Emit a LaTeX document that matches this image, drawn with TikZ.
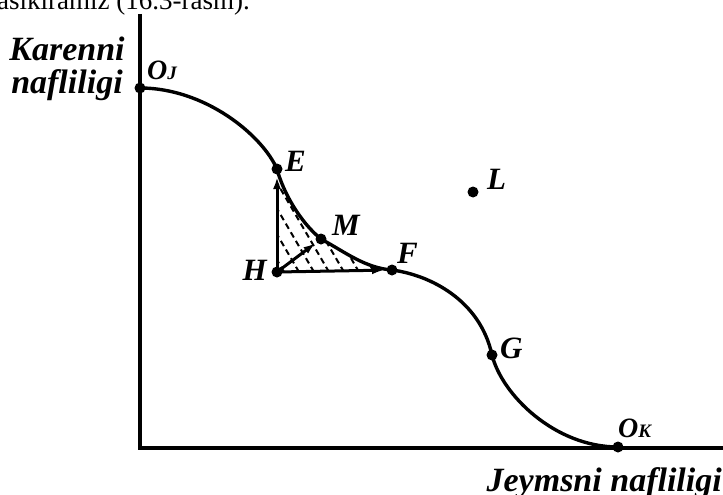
\documentclass[tikz,border=0pt]{standalone}
\usepackage{fontspec}
\setmainfont{Liberation Serif}
\usepackage{tikz}
\usetikzlibrary{arrows.meta}

\begin{document}
\begin{tikzpicture}[x=1pt,y=-1pt,>={Latex[length=12pt,width=8pt]},
  dot/.style={shape=circle,fill=black,inner sep=0pt,minimum size=11pt},
  lbl/.style={font=\fontsize{31}{31}\selectfont\bfseries\itshape,inner sep=0pt,anchor=base west},
  axlbl/.style={font=\fontsize{34}{33}\selectfont\bfseries\itshape,align=center,inner sep=0pt}]
\useasboundingbox (0,0) rectangle (723,495);
\clip (0,0) rectangle (723,495);
\node[anchor=base west,inner sep=0pt,font=\fontsize{27}{27}\selectfont] (txt) at (-3,10) {asikiramiz (16.3-rasm).};
% axes
\coordinate (ytop) at (140,14);
\coordinate (orig) at (140,448);
\coordinate (xend) at (723,448);
\draw[line width=3.4pt] (ytop)--(orig)--(xend);
\node[axlbl,anchor=base] (ylab) at (67,93) {Karenni\\nafliligi};
\node[axlbl,anchor=base east] (xlab) at (722,491) {Jeymsni nafliligi};
% points
\coordinate (OJ) at (140,88);
\coordinate (E) at (277,169);
\coordinate (H) at (277,272);
\coordinate (M) at (321,239);
\coordinate (F) at (392,270);
\coordinate (L) at (473,192);
\coordinate (G) at (492,355);
\coordinate (OK) at (618,447);
% hatching
\begin{scope}
\clip (H)--(E) .. controls (283,192) and (300,222) .. (M)
  .. controls (345,252) and (365,268) .. (F)--cycle;
\foreach \x in {284,299,...,404}
  \draw[dashed,dash pattern=on 6pt off 4pt,line width=2pt] (\x,272)--++(-70,-120);
\end{scope}
% curve
\draw[line width=3.4pt] (OJ) .. controls (205,88) and (262,135) .. (E)
  .. controls (283,192) and (300,222) .. (M)
  .. controls (345,252) and (365,268) .. (F)
  .. controls (430,275) and (480,300) .. (G)
  .. controls (502,395) and (555,447) .. (OK);
% arrows
\draw[->,line width=3pt,shorten >=8pt] (H)--(E);
\draw[->,line width=3pt,shorten >=8pt] (H)--(F);
\draw[->,line width=3pt,shorten >=7pt] (H)--(M);
% dots
\foreach \p in {OJ,E,H,M,F,L,G,OK}
  \node[dot] (d\p) at (\p) {};
% labels
\node[lbl] (lOJ) at (147,80) {\fontsize{28}{28}\selectfont O{\fontsize{19}{19}\selectfont J}};
\node[lbl] (lE) at (285,171) {E};
\node[lbl,anchor=base east] (lH) at (267,280) {H};
\node[lbl] (lM) at (332,235) {M};
\node[lbl] (lF) at (397,263) {F};
\node[lbl] (lL) at (487,189) {L};
\node[lbl] (lG) at (500,358) {G};
\node[lbl] (lOK) at (618,437) {\fontsize{28}{28}\selectfont O{\fontsize{19}{19}\selectfont K}};
\end{tikzpicture}
\end{document}
